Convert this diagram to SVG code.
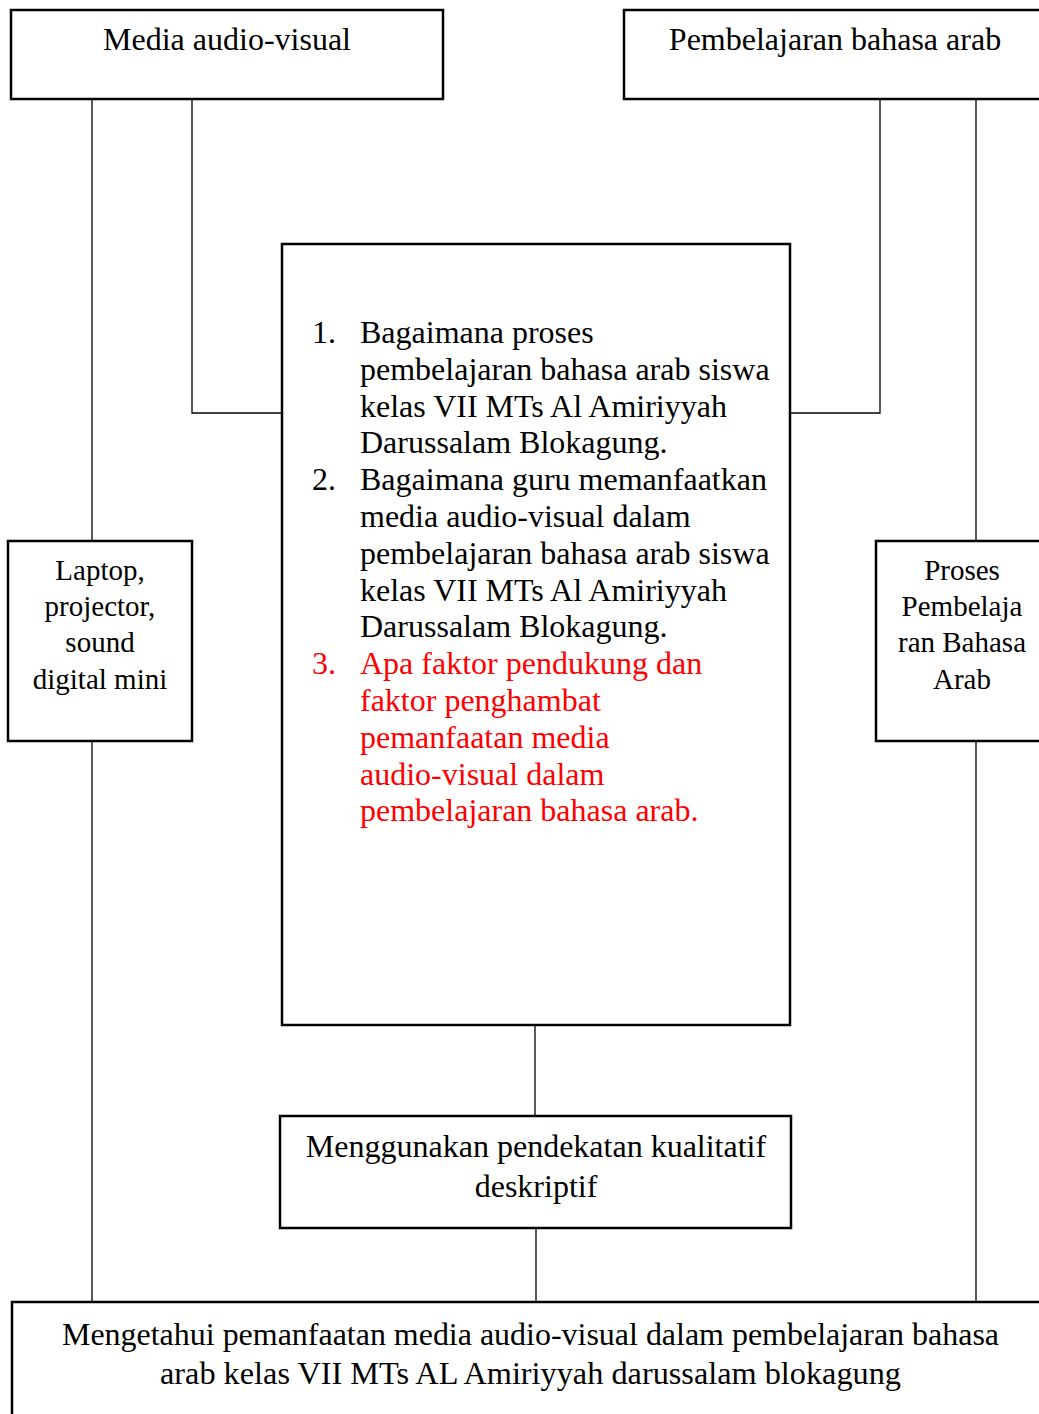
<svg xmlns="http://www.w3.org/2000/svg" width="1039" height="1414" viewBox="0 0 1039 1414">
<style>
.box{fill:#fff;stroke:#000;stroke-width:2.5}
.ln{fill:none;stroke:#000;stroke-width:1.3}
text{font-family:"Liberation Serif","Times New Roman",serif;font-size:32px;fill:#000}
.s{font-size:29px}
.c{text-anchor:middle}
.red{fill:#ff0000}
</style>
<rect width="1039" height="1414" fill="#fff"/>
<g id="connectors">
<line class="ln" x1="92" y1="99" x2="92" y2="541"/>
<polyline class="ln" points="192,99 192,413 282,413"/>
<polyline class="ln" points="880,99 880,413 790,413"/>
<line class="ln" x1="976" y1="99" x2="976" y2="541"/>
<line class="ln" x1="92" y1="741" x2="92" y2="1302"/>
<line class="ln" x1="976" y1="741" x2="976" y2="1302"/>
<line class="ln" x1="535" y1="1025" x2="535" y2="1116"/>
<line class="ln" x1="536" y1="1228" x2="536" y2="1302"/>
</g>
<g id="media">
<rect class="box" x="11" y="10" width="432" height="89"/>
<text class="c" x="227" y="50">Media audio-visual</text>
</g>
<g id="pembelajaran">
<rect class="box" x="624" y="10" width="430" height="89"/>
<text class="c" x="835" y="50">Pembelajaran bahasa arab</text>
</g>
<g id="rumusan">
<rect class="box" x="282" y="244" width="508" height="781"/>
<text x="312" y="343">1.</text>
<text x="360" y="343">Bagaimana proses</text>
<text x="360" y="380">pembelajaran bahasa arab siswa</text>
<text x="360" y="417">kelas VII MTs Al Amiriyyah</text>
<text x="360" y="453">Darussalam Blokagung.</text>
<text x="312" y="490">2.</text>
<text x="360" y="490">Bagaimana guru memanfaatkan</text>
<text x="360" y="527">media audio-visual dalam</text>
<text x="360" y="564">pembelajaran bahasa arab siswa</text>
<text x="360" y="601">kelas VII MTs Al Amiriyyah</text>
<text x="360" y="637">Darussalam Blokagung.</text>
<text class="red" x="312" y="674">3.</text>
<text class="red" x="360" y="674">Apa faktor pendukung dan</text>
<text class="red" x="360" y="711">faktor penghambat</text>
<text class="red" x="360" y="748">pemanfaatan media</text>
<text class="red" x="360" y="785">audio-visual dalam</text>
<text class="red" x="360" y="821">pembelajaran bahasa arab.</text>
</g>
<g id="alat">
<rect class="box" x="8" y="541" width="184" height="200"/>
<text class="c s" x="100" y="580">Laptop,</text>
<text class="c s" x="100" y="616">projector,</text>
<text class="c s" x="100" y="652">sound</text>
<text class="c s" x="100" y="689">digital mini</text>
</g>
<g id="proses">
<rect class="box" x="876" y="541" width="180" height="200"/>
<text class="c s" x="962" y="580">Proses</text>
<text class="c s" x="962" y="616">Pembelaja</text>
<text class="c s" x="962" y="652">ran Bahasa</text>
<text class="c s" x="962" y="689">Arab</text>
</g>
<g id="metode">
<rect class="box" x="280" y="1116" width="511" height="112"/>
<text class="c" x="536" y="1157">Menggunakan pendekatan kualitatif</text>
<text class="c" x="536" y="1197">deskriptif</text>
</g>
<g id="tujuan">
<rect class="box" x="12" y="1302" width="1050" height="130"/>
<text x="62" y="1345" textLength="937" lengthAdjust="spacingAndGlyphs">Mengetahui pemanfaatan media audio-visual dalam pembelajaran bahasa</text>
<text x="160" y="1384" textLength="741" lengthAdjust="spacingAndGlyphs">arab kelas VII MTs AL Amiriyyah darussalam blokagung</text>
</g>
</svg>
